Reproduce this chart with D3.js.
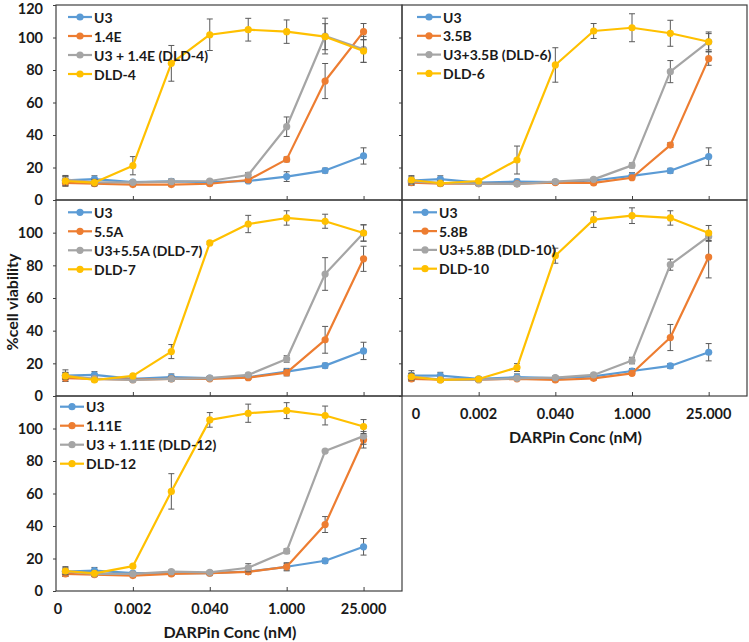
<!DOCTYPE html>
<html><head><meta charset="utf-8">
<script src="https://cdn.jsdelivr.net/npm/d3@7"></script>
<style>
body{margin:0;background:#fff}
text{font-family:Lato,"Open Sans",sans-serif;font-weight:700;fill:#1a1a1a}
</style>
</head><body><svg id="c" width="749" height="642"></svg>
<script>
// x values: 5-fold dilutions; first entry is the "0" control drawn just right of the axis minimum
const concentrations = [0.000095, 0.00032, 0.0016, 0.008, 0.04, 0.2, 1, 5, 25];
const xTickValues = [0.000064, 0.0016, 0.04, 1, 25];
const xTickLabels = ["0", "0.002", "0.040", "1.000", "25.000"];
const yTicksFull = [0, 20, 40, 60, 80, 100, 120];
const yTicksShort = [0, 20, 40, 60, 80, 100];
const seriesColors = ["#5B9BD5", "#ED7D31", "#A5A5A5", "#FFC000"];
const yAxisTitle = "%cell viability";
const xAxisTitle = "DARPin Conc (nM)";

// Panel DLD-4
const legend4 = ["U3", "1.4E", "U3 + 1.4E (DLD-4)", "DLD-4"];
const u3_4   = [12.1, 12.9, 11.0, 11.5, 11.0, 11.7, 14.4, 18.1, 27.1];
const e14    = [10.5, 10.0, 9.5, 9.5, 10.0, 12.3, 25.0, 73.2, 103.6];
const comb4  = [12.5, 11.0, 10.9, 11.3, 11.7, 15.4, 45.1, 100.9, 92.7];
const dld4   = [11.7, 10.7, 21.1, 84.1, 101.7, 104.8, 103.6, 100.5, 91.7];
const u3_4e  = [3, 2, 1, 1.5, 1, 1, 3, 1.5, 5];
const e14e   = [2, 1, 1, 1, 1, 1.5, 1.5, 10.8, 5];
const comb4e = [2, 1.5, 1, 1, 1, 1.5, 6, 11, 8];
const dld4e  = [3, 2, 5.6, 11, 9.7, 7, 7.2, 8, 7];

// Panel DLD-6
const legend6 = ["U3", "3.5B", "U3+3.5B (DLD-6)", "DLD-6"];
const u3_6   = [12.0, 12.9, 10.7, 11.3, 11.0, 12.0, 14.8, 18.0, 26.7];
const b35    = [10.7, 10.0, 10.0, 10.0, 10.7, 10.5, 13.7, 33.8, 87.0];
const comb6  = [11.5, 10.5, 10.0, 9.8, 11.3, 12.7, 21.3, 79.0, 97.4];
const dld6   = [12.3, 10.3, 11.7, 24.6, 83.1, 104.0, 106.0, 102.6, 97.4];
const u3_6e  = [3, 2, 1, 1.5, 1, 1, 2, 1.5, 5.4];
const b35e   = [1.5, 1, 1, 1, 1, 1, 1, 1.5, 4.1];
const comb6e = [2, 1, 1, 1, 1, 1, 1.5, 6.8, 5];
const dld6e  = [2, 1.5, 1, 8.6, 10.6, 4.6, 8.6, 8, 6];

// Panel DLD-7
const legend7 = ["U3", "5.5A", "U3+5.5A (DLD-7)", "DLD-7"];
const u3_7   = [12.5, 12.9, 10.5, 11.5, 11.0, 11.5, 14.9, 18.6, 27.6];
const a55    = [11.0, 10.5, 10.0, 10.5, 10.5, 11.2, 14.3, 34.4, 84.0];
const comb7  = [12.5, 10.5, 9.8, 10.5, 11.0, 12.9, 22.7, 74.7, 99.8];
const dld7   = [12.3, 9.8, 12.3, 27.2, 93.7, 105.3, 109.0, 107.0, 99.8];
const u3_7e  = [3.5, 2, 1, 2, 1, 1, 2, 1.5, 5.3];
const a55e   = [2, 1, 1, 1, 1, 1, 2, 8.2, 7.7];
const comb7e = [2, 1, 1, 1.5, 1, 1, 2, 10, 5];
const dld7e  = [2, 1, 1, 4.3, 1, 5.3, 4.4, 4.3, 5];

// Panel DLD-10
const legend10 = ["U3", "5.8B", "U3+5.8B (DLD-10)", "DLD-10"];
const u3_10   = [12.5, 12.5, 10.5, 11.5, 11.0, 12.0, 15.3, 18.4, 26.8];
const b58     = [10.5, 10.0, 10.0, 10.5, 9.8, 10.8, 13.9, 35.8, 85.1];
const comb10  = [12.0, 10.0, 10.0, 10.8, 11.2, 12.9, 21.7, 80.4, 97.7];
const dld10   = [11.8, 9.8, 10.4, 17.4, 85.9, 108.0, 110.4, 109.0, 99.8];
const u3_10e  = [3, 2, 1, 2, 1, 1, 1.5, 1.5, 5.3];
const b58e    = [1.5, 1, 1, 1, 1, 1, 1, 8, 12.8];
const comb10e = [2, 1, 1, 1, 1, 1, 2, 3.4, 3];
const dld10e  = [2, 1, 1, 2.4, 4.6, 4.8, 4.8, 4.4, 4.6];

// Panel DLD-12
const legend12 = ["U3", "1.11E", "U3 + 1.11E (DLD-12)", "DLD-12"];
const u3_12   = [12.0, 12.5, 11.0, 11.0, 11.0, 12.0, 14.9, 18.6, 27.2];
const e111    = [10.5, 10.0, 9.5, 10.5, 11.0, 11.8, 14.9, 40.9, 93.1];
const comb12  = [12.0, 10.5, 10.5, 11.9, 11.5, 14.3, 24.5, 86.1, 95.3];
const dld12   = [12.3, 10.8, 15.3, 61.3, 105.3, 109.4, 111.0, 108.0, 101.2];
const u3_12e  = [3, 2, 1, 1.5, 1, 1, 2, 1.5, 5.1];
const e111e   = [1.5, 1, 1, 1, 1, 1.5, 2.5, 4.9, 5.1];
const comb12e = [2, 1, 1, 1, 1, 2.5, 1.5, 1, 5];
const dld12e  = [2, 1.5, 1, 10.9, 4.5, 5.6, 4.9, 5.8, 4.3];

// ---------- layout ----------
const cols = [[56, 402], [402, 747]];
const rows = [[5, 200], [200, 396], [396, 591]];
const legendLayout = [
  {lx: 12, ty: 12, sp: 19},
  {lx: 15, ty: 12, sp: 18.8},
  {lx: 12, ty: 12.3, sp: 19},
  {lx: 11, ty: 12.3, sp: 18.8},
  {lx: 4, ty: 10.7, sp: 19}
];

const panels = [
  {col: 0, row: 0, legend: legend4,  values: [u3_4, e14, comb4, dld4],     errors: [u3_4e, e14e, comb4e, dld4e],     yt: yTicksFull,  xLabels: false},
  {col: 1, row: 0, legend: legend6,  values: [u3_6, b35, comb6, dld6],     errors: [u3_6e, b35e, comb6e, dld6e],     yt: yTicksShort, xLabels: false},
  {col: 0, row: 1, legend: legend7,  values: [u3_7, a55, comb7, dld7],     errors: [u3_7e, a55e, comb7e, dld7e],     yt: yTicksShort, xLabels: false},
  {col: 1, row: 1, legend: legend10, values: [u3_10, b58, comb10, dld10], errors: [u3_10e, b58e, comb10e, dld10e], yt: yTicksShort, xLabels: true},
  {col: 0, row: 2, legend: legend12, values: [u3_12, e111, comb12, dld12], errors: [u3_12e, e111e, comb12e, dld12e], yt: yTicksShort, xLabels: true}
];

const svg = d3.select("#c");
const axisColor = "#3f3f3f";
const errColor = "#5a5a5a";

panels.forEach((p, pi) => {
  const xr = cols[p.col], yr = rows[p.row];
  const x = d3.scaleLog().base(25).domain([Math.pow(25, -3), Math.pow(25, 1.5)]).range(xr);
  const y = d3.scaleLinear().domain([0, 120]).range([yr[1], yr[0]]);
  const g = svg.append("g");

  g.append("rect").attr("x", xr[0]).attr("y", yr[0])
    .attr("width", xr[1] - xr[0]).attr("height", yr[1] - yr[0])
    .attr("fill", "none").attr("stroke", axisColor).attr("stroke-width", 1.2);

  const ya = d3.axisLeft(y).tickValues(p.yt).tickSizeInner(3).tickSizeOuter(0).tickPadding(10)
    .tickFormat(p.col === 0 ? d3.format("d") : () => "");
  const yg = g.append("g").attr("transform", `translate(${xr[0]},0)`).call(ya);
  yg.select(".domain").remove();
  yg.selectAll("line").attr("stroke", axisColor);
  yg.selectAll("text").style("font-size", "14.5px").attr("fill", "#1a1a1a")
    .attr("dy", d => d === 120 ? "0.58em" : "0.34em");

  const xa = d3.axisBottom(x).tickValues(xTickValues.slice(1)).tickSizeInner(-4).tickSizeOuter(0).tickFormat(() => "");
  const xg = g.append("g").attr("transform", `translate(0,${yr[1]})`).call(xa);
  xg.select(".domain").remove();
  xg.selectAll("line").attr("stroke", axisColor);

  if (p.xLabels) {
    g.selectAll(".xl").data(xTickValues).enter().append("text")
      .attr("x", (d, i) => x(d) + (i === 0 ? (p.col === 1 ? 14 : 2) : 0))
      .attr("y", yr[1] + 19)
      .attr("text-anchor", "middle").attr("dominant-baseline", "middle")
      .style("font-size", "14.5px")
      .text((d, i) => xTickLabels[i]);
    g.append("text").attr("x", (xr[0] + xr[1]) / 2 + 1).attr("y", yr[1] + 43)
      .attr("text-anchor", "middle").attr("dominant-baseline", "middle")
      .style("font-size", "16px").text(xAxisTitle);
  }

  const line = d3.line().x((d, i) => x(concentrations[i])).y(d => y(d));
  p.values.forEach((vals, si) => {
    const sg = g.append("g");
    const errs = p.errors[si];
    vals.forEach((v, i) => {
      const cx = x(concentrations[i]);
      const y1 = y(v + errs[i]), y2 = y(v - errs[i]);
      sg.append("line").attr("x1", cx).attr("x2", cx).attr("y1", y1).attr("y2", y2)
        .attr("stroke", errColor).attr("stroke-width", 1);
      [y1, y2].forEach(yy => sg.append("line").attr("x1", cx - 3).attr("x2", cx + 3)
        .attr("y1", yy).attr("y2", yy).attr("stroke", errColor).attr("stroke-width", 1));
    });
    sg.append("path").datum(vals).attr("d", line).attr("fill", "none")
      .attr("stroke", seriesColors[si]).attr("stroke-width", 2.2).attr("stroke-linejoin", "round");
    sg.selectAll("circle").data(vals).enter().append("circle")
      .attr("cx", (d, i) => x(concentrations[i])).attr("cy", d => y(d)).attr("r", 3.6)
      .attr("fill", seriesColors[si]);
  });

  const L = legendLayout[pi];
  const lg = g.append("g").attr("transform", `translate(${xr[0] + L.lx},${yr[0] + L.ty})`);
  p.legend.forEach((name, si) => {
    const yy = si * L.sp;
    lg.append("line").attr("x1", 0).attr("x2", 24).attr("y1", yy).attr("y2", yy)
      .attr("stroke", seriesColors[si]).attr("stroke-width", 2.2);
    lg.append("circle").attr("cx", 12).attr("cy", yy).attr("r", 3.6).attr("fill", seriesColors[si]);
    lg.append("text").attr("x", 26).attr("y", yy).attr("dominant-baseline", "central")
      .style("font-size", "14px").text(name);
  });
});

svg.append("text").attr("transform", "translate(11,302) rotate(-90)")
  .attr("text-anchor", "middle").attr("dominant-baseline", "central")
  .style("font-size", "16px").text(yAxisTitle);
</script>
</body></html>
